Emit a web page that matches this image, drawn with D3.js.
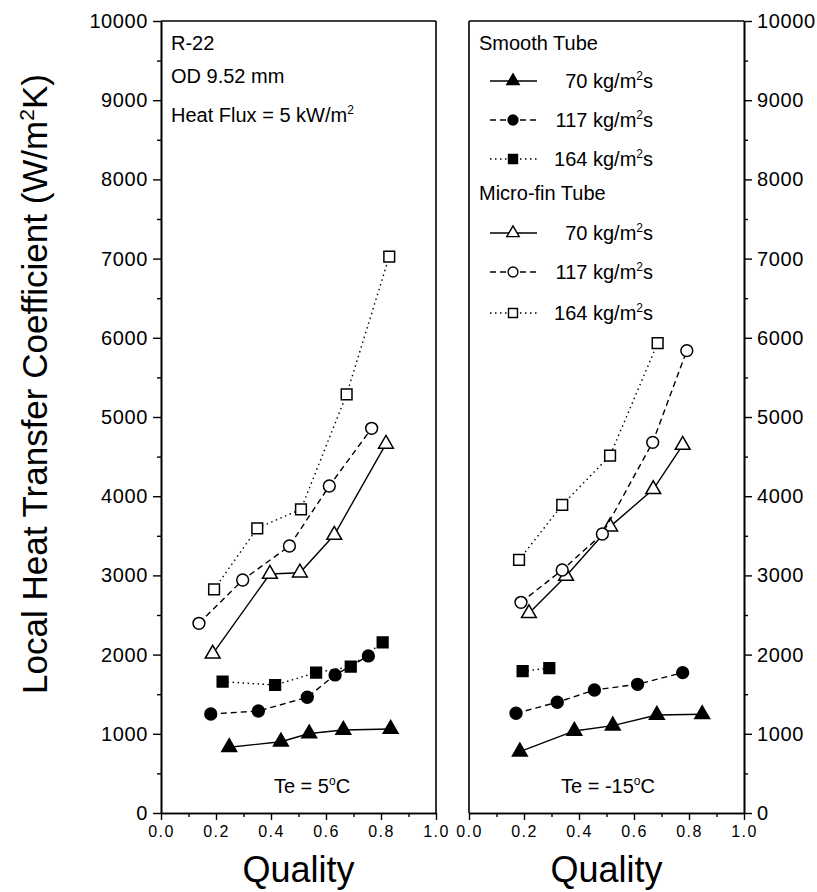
<!DOCTYPE html>
<html>
<head>
<meta charset="utf-8">
<script src="https://cdn.jsdelivr.net/npm/d3@7/dist/d3.min.js"></script>
<style>
  body { margin: 0; background: #fff; }
  text { font-family: "Liberation Sans", Arial, sans-serif; fill: #000; }
</style>
</head>
<body>
<div id="chart"></div>
<script>
// --- datos: [quality, h (W/m2K)] ---
const qualityTicks = [0, 0.2, 0.4, 0.6, 0.8, 1.0];
const qualityMinor = [0.1, 0.3, 0.5, 0.7, 0.9];
const htcTicks = [0, 1000, 2000, 3000, 4000, 5000, 6000, 7000, 8000, 9000, 10000];
const htcMinor = [500, 1500, 2500, 3500, 4500, 5500, 6500, 7500, 8500, 9500];
const massFluxLabels = ["70", "117", "164"];
const panelLabels = ["Te = 5", "Te = -15"];

// Te = 5 C
const te5Smooth70 = [[0.248, 830], [0.436, 900], [0.539, 1003], [0.663, 1048], [0.835, 1061]];
const te5Smooth117 = [[0.181, 1250], [0.354, 1288], [0.532, 1461], [0.633, 1743], [0.754, 1983]];
const te5Smooth164 = [[0.224, 1658], [0.415, 1616], [0.564, 1772], [0.690, 1848], [0.806, 2155]];
const te5Micro70 = [[0.188, 2010], [0.396, 3018], [0.505, 3034], [0.630, 3510], [0.818, 4660]];
const te5Micro117 = [[0.138, 2395], [0.297, 2942], [0.467, 3371], [0.612, 4129], [0.766, 4857]];
const te5Micro164 = [[0.193, 2824], [0.350, 3595], [0.509, 3835], [0.675, 5286], [0.830, 7026]];

// Te = -15 C
const te15Smooth70 = [[0.185, 775], [0.383, 1036], [0.523, 1103], [0.683, 1238], [0.848, 1246]];
const te15Smooth117 = [[0.171, 1259], [0.321, 1398], [0.456, 1553], [0.613, 1625], [0.777, 1772]];
const te15Smooth164 = [[0.195, 1790], [0.292, 1830]];
const te15Micro70 = [[0.218, 2521], [0.353, 2992], [0.513, 3616], [0.670, 4087], [0.777, 4646]];
const te15Micro117 = [[0.189, 2660], [0.339, 3068], [0.485, 3523], [0.668, 4680], [0.792, 5838]];
const te15Micro164 = [[0.182, 3195], [0.339, 3890], [0.513, 4513], [0.686, 5932]];

// --- lienzo ---
const width = 817, height = 892;
const plotTop = 21, plotBottom = 813;
const panels = [
  { x0: 161, x1: 436, side: "left", smooth: [te5Smooth70, te5Smooth117, te5Smooth164], micro: [te5Micro70, te5Micro117, te5Micro164] },
  { x0: 469, x1: 744, side: "right", smooth: [te15Smooth70, te15Smooth117, te15Smooth164], micro: [te15Micro70, te15Micro117, te15Micro164] }
];

const dashes = [null, "6,4", "1.5,3.5"];
const shapes = [d3.symbolTriangle, d3.symbolCircle, d3.symbolSquare];
const sizes = [95, 110, 115];

const svg = d3.select("#chart").append("svg")
  .attr("width", width)
  .attr("height", height);

const y = d3.scaleLinear().domain([0, 10000]).range([plotBottom, plotTop]);

function styleAxis(g) {
  g.selectAll(".domain").attr("stroke", "#000").attr("stroke-width", 1.6);
  g.selectAll(".tick line").attr("stroke", "#000").attr("stroke-width", 1.4);
}

panels.forEach((p, pi) => {
  const x = d3.scaleLinear().domain([0, 1]).range([p.x0, p.x1]);
  const g = svg.append("g");

  // marco
  g.append("line").attr("x1", p.x0).attr("x2", p.x1).attr("y1", plotTop).attr("y2", plotTop)
    .attr("stroke", "#000").attr("stroke-width", 1.6);
  const frameX = p.side === "left" ? p.x1 : p.x0;
  g.append("line").attr("x1", frameX).attr("x2", frameX).attr("y1", plotTop).attr("y2", plotBottom)
    .attr("stroke", "#000").attr("stroke-width", 1.6);

  // eje x
  const xa = g.append("g").attr("transform", `translate(0,${plotBottom})`)
    .call(d3.axisBottom(x).tickValues(qualityTicks).tickSize(7).tickSizeOuter(0)
      .tickPadding(6).tickFormat(d3.format(".1f")));
  xa.selectAll("text").style("font-size", "16px").style("letter-spacing", "1.5px")
    .attr("font-family", null);
  styleAxis(xa);
  const xm = g.append("g").attr("transform", `translate(0,${plotBottom})`)
    .call(d3.axisBottom(x).tickValues(qualityMinor).tickSize(4).tickSizeOuter(0).tickFormat(""));
  styleAxis(xm);

  // eje y
  const axisX = p.side === "left" ? p.x0 : p.x1;
  const yAxis = p.side === "left" ? d3.axisLeft(y) : d3.axisRight(y);
  const ya = g.append("g").attr("transform", `translate(${axisX},0)`)
    .call(yAxis.tickValues(htcTicks).tickSize(8).tickSizeOuter(0).tickPadding(5).tickFormat(d3.format("d")));
  ya.selectAll("text").style("font-size", "20px").style("letter-spacing", "0.6px")
    .attr("font-family", null);
  styleAxis(ya);
  const yMinorAxis = p.side === "left" ? d3.axisLeft(y) : d3.axisRight(y);
  const ym = g.append("g").attr("transform", `translate(${axisX},0)`)
    .call(yMinorAxis.tickValues(htcMinor).tickSize(4).tickSizeOuter(0).tickFormat(""));
  styleAxis(ym);

  const line = d3.line().x(d => x(d[0])).y(d => y(d[1]));

  // series: liso (relleno) y micro-aleteado (hueco)
  [p.smooth, p.micro].forEach((group, gi) => {
    group.forEach((data, si) => {
      g.append("path")
        .datum(data)
        .attr("d", line)
        .attr("fill", "none")
        .attr("stroke", "#000")
        .attr("stroke-width", 1.4)
        .attr("stroke-dasharray", dashes[si]);
      g.selectAll(null)
        .data(data)
        .enter()
        .append("path")
          .attr("transform", d => `translate(${x(d[0])},${y(d[1])})`)
          .attr("d", d3.symbol().type(shapes[si]).size(sizes[si]))
          .attr("fill", gi === 0 ? "#000" : "#fff")
          .attr("stroke", "#000")
          .attr("stroke-width", 1.5);
    });
  });

  // etiqueta Quality
  svg.append("text")
    .attr("x", (p.x0 + p.x1) / 2)
    .attr("y", 882)
    .attr("text-anchor", "middle")
    .style("font-size", "36px")
    .text("Quality");

  // Te
  const te = svg.append("text")
    .attr("x", pi === 0 ? 312 : 608)
    .attr("y", 793)
    .attr("text-anchor", "middle")
    .style("font-size", "20px");
  te.append("tspan").text(panelLabels[pi]);
  te.append("tspan").attr("dy", -8).style("font-size", "12px").text("o");
  te.append("tspan").attr("dy", 8).text("C");
});

// --- anotaciones arriba a la izquierda ---
svg.append("text").attr("x", 171).attr("y", 50).style("font-size", "20px").text("R-22");
svg.append("text").attr("x", 171).attr("y", 83).style("font-size", "20px").text("OD 9.52 mm");
const hf = svg.append("text").attr("x", 171).attr("y", 122).style("font-size", "20px");
hf.append("tspan").text("Heat Flux = 5 kW/m");
hf.append("tspan").attr("dy", -8).style("font-size", "12px").text("2");

// --- leyenda ---
const legendRows = [
  { head: "Smooth Tube", y: 50 },
  { si: 0, fill: "#000", y: 88 },
  { si: 1, fill: "#000", y: 127 },
  { si: 2, fill: "#000", y: 166 },
  { head: "Micro-fin Tube", y: 200 },
  { si: 0, fill: "#fff", y: 240 },
  { si: 1, fill: "#fff", y: 279 },
  { si: 2, fill: "#fff", y: 320 }
];

legendRows.forEach(r => {
  if (r.head) {
    svg.append("text").attr("x", 479).attr("y", r.y).style("font-size", "20px").text(r.head);
    return;
  }
  const cy = r.y - 7;
  svg.append("line")
    .attr("x1", 490).attr("x2", 537).attr("y1", cy).attr("y2", cy)
    .attr("stroke", "#000").attr("stroke-width", 1.4)
    .attr("stroke-dasharray", dashes[r.si]);
  svg.append("path")
    .attr("transform", `translate(513,${cy})`)
    .attr("d", d3.symbol().type(shapes[r.si]).size(sizes[r.si] * 0.7))
    .attr("fill", r.fill).attr("stroke", "#000").attr("stroke-width", 1.4);
  const t = svg.append("text").attr("x", 653).attr("y", r.y)
    .attr("text-anchor", "end").style("font-size", "20px");
  t.append("tspan").text(massFluxLabels[r.si] + " kg/m");
  t.append("tspan").attr("dy", -8).style("font-size", "12px").text("2");
  t.append("tspan").attr("dy", 8).text("s");
});

// --- etiqueta eje Y ---
const yl = svg.append("text")
  .attr("transform", "translate(47,384) rotate(-90)")
  .attr("text-anchor", "middle")
  .style("font-size", "35px");
yl.append("tspan").text("Local Heat Transfer Coefficient (W/m");
yl.append("tspan").attr("dy", -13).style("font-size", "21px").text("2");
yl.append("tspan").attr("dy", 13).text("K)");
</script>
</body>
</html>
